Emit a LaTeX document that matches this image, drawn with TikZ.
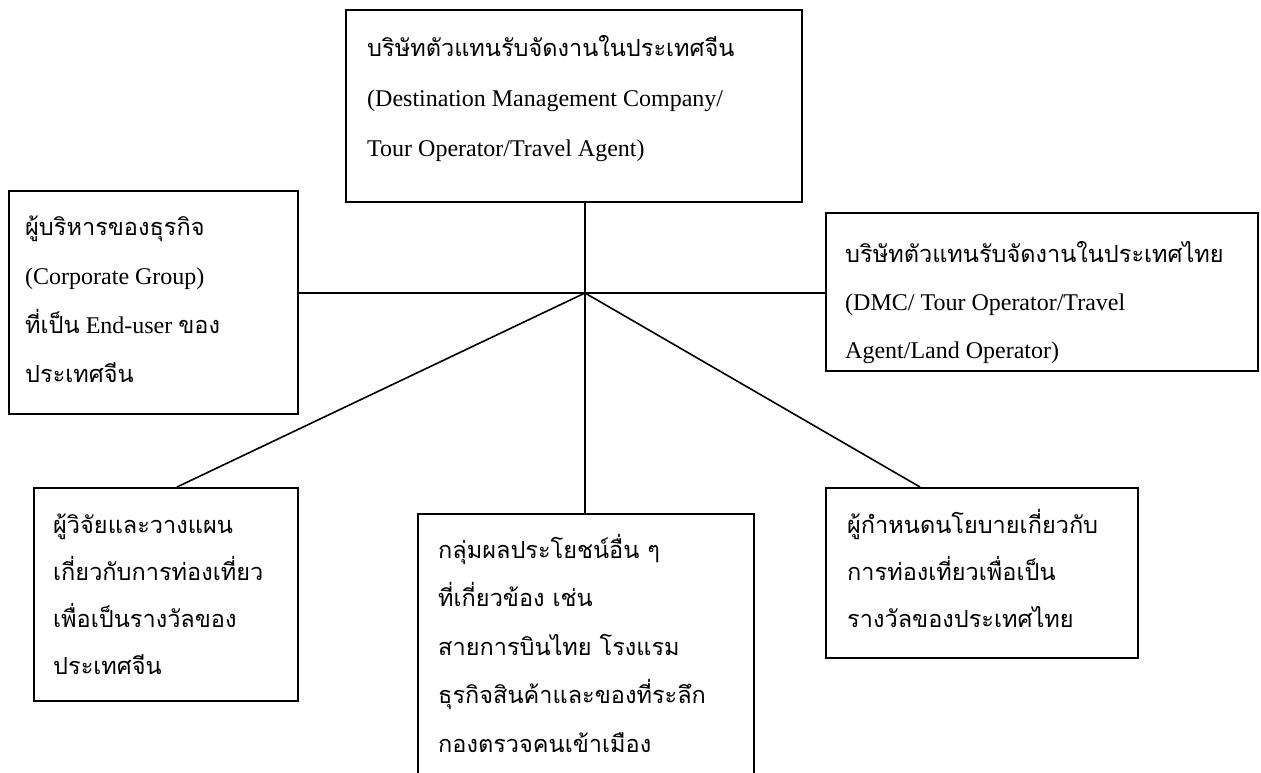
\documentclass[tikz,border=0pt]{standalone}
\usepackage{fontspec}
\setmainfont{Liberation Serif}
\newfontfamily\thai[Script=Thai,Scale=0.98]{Loma}
\begin{document}
\begin{tikzpicture}[x=1pt,y=-1pt,
  box/.style={draw, line width=1.7pt, anchor=north west, inner sep=0pt},
  txt/.style={anchor=north west, align=left, inner sep=0pt, font=\fontsize{24}{48}\selectfont},
  link/.style={line width=1.6pt}]
\useasboundingbox (0,0) rectangle (1261,773);
\clip (0,0) rectangle (1261,773);
\fill[white] (0,0) rectangle (1261,773);
% boxes
\node[box, minimum width=456pt, minimum height=192pt] (top) at (345,9) {};
\node[box, minimum width=289pt, minimum height=223pt] (left) at (8,190) {};
\node[box, minimum width=432pt, minimum height=158pt] (right) at (825,212) {};
\node[box, minimum width=264pt, minimum height=213pt] (bl) at (33,487) {};
\node[box, minimum width=336pt, minimum height=300pt] (bm) at (417,513) {};
\node[box, minimum width=312pt, minimum height=170pt] (br) at (825,487) {};
% texts
\node[txt, font=\fontsize{24}{50}\selectfont] (ttop) at (367,26) {\rule{0pt}{30pt}{\thai บริษัทตัวแทนรับจัดงานในประเทศจีน}\\(Destination Management Company/\\Tour Operator/Travel Agent)};
\node[txt, font=\fontsize{24}{49}\selectfont] (tleft) at (25,205) {\rule{0pt}{30pt}{\thai ผู้บริหารของธุรกิจ}\\(Corporate Group)\\{\thai ที่เป็น} End-user {\thai ของ}\\{\thai ประเทศจีน}};
\node[txt] (tright) at (845,232) {\rule{0pt}{30pt}{\thai บริษัทตัวแทนรับจัดงานในประเทศไทย}\\(DMC/ Tour Operator/Travel\\Agent/Land Operator)};
\node[txt, font=\fontsize{24}{47}\selectfont] (tbl) at (53,503) {\rule{0pt}{30pt}{\thai ผู้วิจัยและวางแผน}\\{\thai เกี่ยวกับการท่องเที่ยว}\\{\thai เพื่อเป็นรางวัลของ}\\{\thai ประเทศจีน}};
\node[txt, font=\fontsize{24}{48.5}\selectfont] (tbm) at (438,528) {\rule{0pt}{30pt}{\thai กลุ่มผลประโยชน์อื่น ๆ}\\{\thai ที่เกี่ยวข้อง เช่น}\\{\thai สายการบินไทย โรงแรม}\\{\thai ธุรกิจสินค้าและของที่ระลึก}\\{\thai กองตรวจคนเข้าเมือง}};
\node[txt, font=\fontsize{24}{47}\selectfont] (tbr) at (847,503) {\rule{0pt}{30pt}{\thai ผู้กำหนดนโยบายเกี่ยวกับ}\\{\thai การท่องเที่ยวเพื่อเป็น}\\{\thai รางวัลของประเทศไทย}};
% connectors
\coordinate (c) at (585,293);
\draw[link] (c |- top.south) -- (c);
\draw[link] (left.east |- c) -- (right.west |- c);
\draw[link] (c) -- ([xshift=144pt]bl.north west);
\draw[link] (c) -- (c |- bm.north);
\draw[link] (c) -- ([xshift=95pt]br.north west);
\end{tikzpicture}
\end{document}
